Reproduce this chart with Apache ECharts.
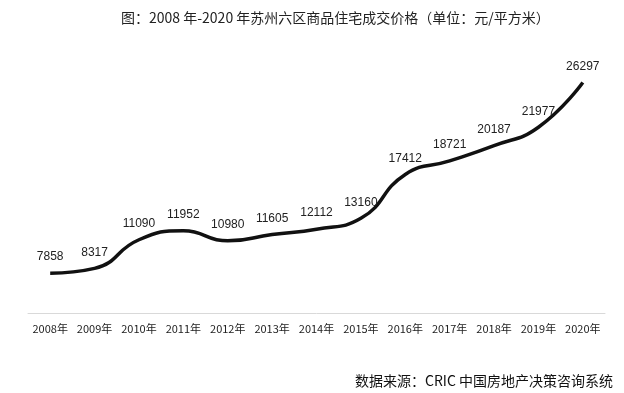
<!DOCTYPE html>
<html><head><meta charset="utf-8">
<script src="https://cdn.jsdelivr.net/npm/echarts@6/dist/echarts.min.js"></script>
<style>html,body{margin:0;padding:0;background:#fff}#c{width:624px;height:393px}</style>
</head><body><div id="c"></div>
<script>
var categories = ['2008年','2009年','2010年','2011年','2012年','2013年','2014年','2015年','2016年','2017年','2018年','2019年','2020年'];
var prices = [7858, 8317, 11090, 11952, 10980, 11605, 12112, 13160, 17412, 18721, 20187, 21977, 26297];
var titleText = '图：2008 年-2020 年苏州六区商品住宅成交价格（单位：元/平方米）';
var sourceText = '数据来源：CRIC 中国房地产决策咨询系统';
var chart = echarts.init(document.getElementById('c'));
chart.setOption({
  animation: false,
  backgroundColor: '#fff',
  title: [{
    text: titleText, left: 116, top: 6,
    textStyle: {fontSize: 14, fontWeight: 'normal', color: '#222', fontFamily: '"Noto Sans CJK SC", sans-serif'}
  }, {
    text: sourceText, right: 6, top: 369,
    textStyle: {fontSize: 14, fontWeight: 'normal', color: '#111', fontFamily: '"Noto Sans CJK SC", sans-serif'}
  }],
  grid: {left: 28, right: 19, top: 65, bottom: 80},
  xAxis: {
    type: 'category', data: categories, boundaryGap: true,
    axisLine: {lineStyle: {color: '#d9d9d9', width: 1}},
    axisTick: {show: false},
    axisLabel: {color: '#222', fontSize: 11, margin: 10, interval: 0, fontFamily: '"Noto Sans CJK SC", sans-serif'}
  },
  yAxis: {
    type: 'value', min: 4000, max: 28000, show: false,
    splitLine: {show: false}
  },
  series: [{
    type: 'line', data: prices, smooth: 0.5,
    symbol: 'circle', symbolSize: 0, showSymbol: true,
    itemStyle: {color: '#111'},
    lineStyle: {color: '#111', width: 3.5},
    label: {show: true, position: 'top', distance: 10, color: '#222', fontSize: 12, fontFamily: 'Arial, "Liberation Sans", sans-serif'}
  }]
});
</script></body></html>
